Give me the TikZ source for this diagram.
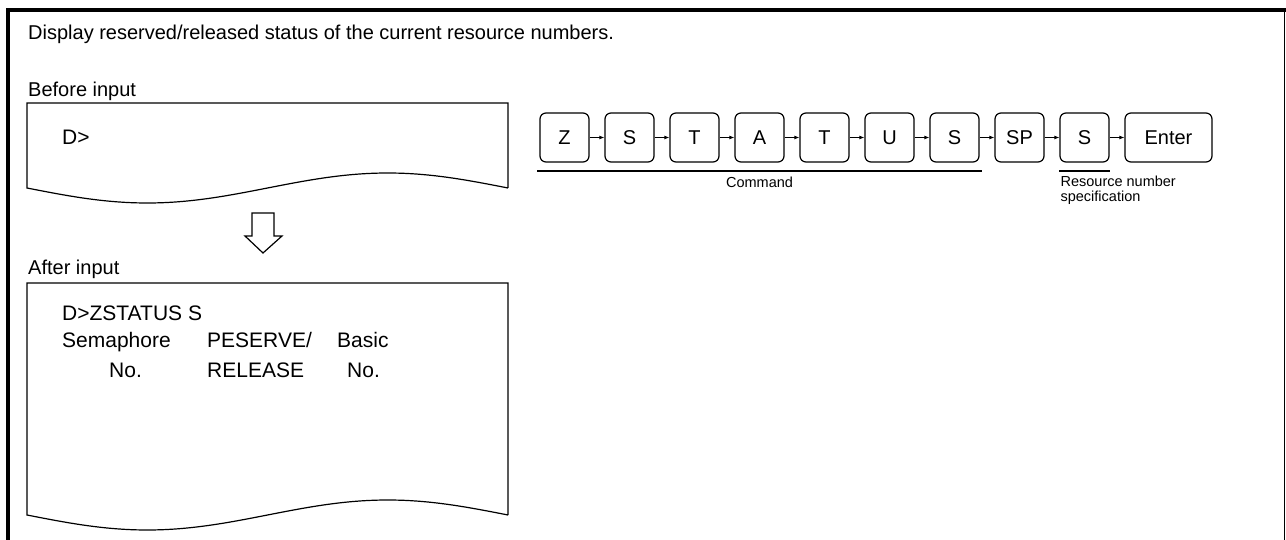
\documentclass[tikz,border=0pt]{standalone}
\usepackage{fontspec}
\setmainfont{Liberation Sans}
\usetikzlibrary{arrows.meta,positioning,calc}
\tikzset{
  gomb/.style={draw,line width=1.2pt,rounded corners=6pt,minimum width=49pt,minimum height=49pt,inner sep=0pt,font=\fontsize{20}{24}\selectfont},
  nyil/.style={line width=1.5pt,-{Latex[length=5pt,width=4pt]}},
  felirat/.style={anchor=base west,inner sep=0pt,font=\fontsize{20}{24}\selectfont},
  kijelzo/.style={anchor=base west,inner sep=0pt,font=\fontsize{21}{25}\selectfont},
  megj/.style={inner sep=0pt,font=\fontsize{14.5}{15.5}\selectfont},
  papir/.style={draw,line width=1.2pt},
}
\begin{document}
\begin{tikzpicture}[x=1pt,y=-1pt]
  \useasboundingbox (0,0) rectangle (1286,540);
  % keret
  \draw[line width=4pt] (7.5,540) -- (7.5,10) -- (1286,10);
  \draw[line width=1.5pt] (1284.5,10) -- (1284.5,540);
  \node[felirat] (cim) at (28,40) {Display reserved/released status of the current resource numbers.};
  % bevitel elott
  \node[felirat] (elotte) at (28,97) {Before input};
  \draw[papir] (27,188) -- (27,103) -- (508,103) -- (508,188)
    -- plot[domain=508:27,samples=80] (\x,{188+15*sin(0.7484*(\x-27))}) -- cycle;
  \node[kijelzo] (prompt) at (62,145) {D>};
  \draw[line width=1.2pt,fill=white] (252,213) -- (274,213) -- (274,236) -- (282,236)
    -- (263,253) -- (245,236) -- (252,236) -- cycle;
  % bevitel utan
  \node[felirat] (utana) at (28,275) {After input};
  \draw[papir] (27,515) -- (27,283) -- (508,283) -- (508,515)
    -- plot[domain=508:27,samples=80] (\x,{515+15*sin(0.7484*(\x-27))}) -- cycle;
  \node[kijelzo] (sor1) at (62,320) {D>ZSTATUS S};
  \node[kijelzo] (sor2a) at (62,348) {Semaphore};
  \node[kijelzo] (sor2b) at (207,348) {PESERVE/};
  \node[kijelzo] (sor2c) at (337,348) {Basic};
  \node[kijelzo] (sor3a) at (109,377) {No.};
  \node[kijelzo] (sor3b) at (207,377) {RELEASE};
  \node[kijelzo] (sor3c) at (347,377) {No.};
  % billentyuk
  \node[gomb] (k1) at (564.5,137.5) {Z};
  \node[gomb,right=14.8pt of k1] (k2) {S};
  \node[gomb,right=14.8pt of k2] (k3) {T};
  \node[gomb,right=14.8pt of k3] (k4) {A};
  \node[gomb,right=14.8pt of k4] (k5) {T};
  \node[gomb,right=14.8pt of k5] (k6) {U};
  \node[gomb,right=14.8pt of k6] (k7) {S};
  \node[gomb,right=14.8pt of k7] (k8) {SP};
  \node[gomb,right=14.8pt of k8] (k9) {S};
  \node[gomb,minimum width=87pt,right=14.8pt of k9] (k10) {Enter};
  \foreach \a/\b in {k1/k2,k2/k3,k3/k4,k4/k5,k5/k6,k6/k7,k7/k8,k8/k9,k9/k10}
    \draw[nyil] (\a) -- (\b);
  \draw[line width=2pt] ($(k1.south west)+(-2,8)$) -- ($(k7.south east)+(2,8)$);
  \draw[line width=2pt] ($(k9.south west)+(0,8)$) -- ($(k9.south east)+(0,8)$);
  \node[megj] (parancs) at ($(k1.south west)!0.5!(k7.south east)+(0,20)$) {Command};
  \node[megj,anchor=north west,align=left] (eroforras) at ($(k9.south west)+(1,13)$)
    {Resource number\\specification};
\end{tikzpicture}
\end{document}
